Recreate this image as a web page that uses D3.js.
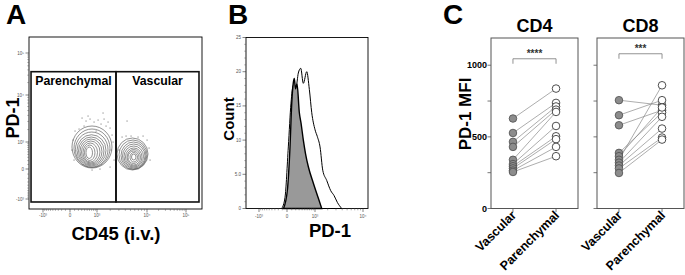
<!DOCTYPE html>
<html>
<head>
<meta charset="utf-8">
<script src="https://cdn.jsdelivr.net/npm/d3@7"></script>
<style>
body { margin: 0; background: #fff; }
svg { display: block; font-family: "Liberation Sans", Arial, sans-serif; }
</style>
</head>
<body>
<div id="chart"></div>
<script>
// ---------- data ----------
// flow axes (logicle-like)
const decadeTicks = [-1000, 0, 1000, 10000, 100000];
const decadeLabels = ["-10³", "0", "10³", "10⁴", "10⁵"];

// A: gates, in CD45 / PD-1 units
const gateNames = ["Parenchymal", "Vascular"];
const gateCD45 = [[-1967, 2629], [2629, 212900]];
const gatePD1 = [-1177, 36240];

// A: contour rings [CD45 low, CD45 high, PD-1 low, PD-1 high], outer -> inner
const parenchymalRings = [
  [41, 2178, 20, 2397], [86, 1978, 31, 2060], [122, 1794, 41, 1760],
  [162, 1622, 63, 1520], [203, 1465, 86, 1341], [247, 1318, 110, 1195],
  [294, 1183, 135, 1062], [344, 1030, 162, 939], [397, 880, 203, 825],
  [453, 745, 262, 720]
];
const vascularRings = [
  [2753, 10627, -18, 1267], [3017, 10000, -9, 1127], [3301, 9599, 0, 1000],
  [3530, 9212, 20, 880], [3773, 8658, 41, 771], [4031, 8137, 63, 671],
  [4303, 7643, 86, 600], [4494, 7178, 123, 535], [4901, 6740, 162, 473],
  [5227, 6329, 217, 415]
];
// A: outlier events outside the contours
const eventCD45 = [310, 453, 623, 825, 1060, 1249, 1465, 1622, 1794, 1978, 379, 217, 110, 63, 40, 86,
  2178, 2284, 2076, 2395, 2630, 1978, 4303, 3455, 4120, 5115, 6880, 8479, 10000, 11290, 11990,
  3017, 720, 1180, 939, 535, 1390];
const eventPD1 = [3535, 3065, 3370, 2919, 3214, 2647, 3370, 2397, 2919, 2167, 2397, 2060, 1858, 1127, 578, 217,
  1499, 1000, 578, 217, 110, 41, 3065, 1341, 1418, 1418, 1341, 1418, 1127, 671, 217,
  578, -18, 0, 1858, 3885, 4470];

// B: PD-1 histograms
const histTicks = [-1000, 0, 1000, 10000];
const histTickLabels = ["-10³", "0", "10³", "10⁴"];
const countTicks = [0, 5, 10, 15, 20, 25];
const countLabels = ["0", "5.0", "10", "15", "20", "25"];
const parenchymalPD1 = [-113, -40, 26, 83, 138, 209, 275, 352, 444, 580, 698, 818, 1004, 1149, 1337, 1548, 1905, 2328, 2731, 3193, 3913];
const parenchymalCount = [0, 1.6, 9, 15.4, 18, 17.8, 19.8, 20.5, 18.3, 20, 17.4, 14, 11.5, 10.5, 9, 5.6, 4.1, 2.6, 1.9, 0.9, 0];
const vascularPD1 = [-72, 6, 61, 100, 138, 163, 195, 237, 307, 362, 444, 530, 651, 905, 1217, 1467];
const vascularCount = [0, 2.6, 9, 15.4, 18.4, 19, 17.5, 18.2, 14, 12.5, 10, 8, 6.1, 3.7, 1.5, 0];

// C: paired PD-1 MFI
const compartments = ["Vascular", "Parenchymal"];
const subsets = ["CD4", "CD8"];
const significance = ["****", "***"];
const sigLevel = [1045, 1080];
const mfiTicks = [0, 250, 500, 750, 1000];
const mfiLabels = ["0", "", "500", "", "1000"];
const cd4Vascular = [628, 527, 465, 430, 340, 310, 295, 280, 265, 255];
const cd4Parenchymal = [837, 737, 712, 690, 674, 576, 504, 484, 430, 365];
const cd8Vascular = [756, 651, 581, 388, 365, 340, 320, 300, 280, 248];
const cd8Parenchymal = [721, 756, 686, 670, 705, 860, 640, 558, 495, 481];

// ---------- setup ----------
const svg = d3.select("#chart").append("svg")
  .attr("width", 685)
  .attr("height", 275);

function minorTicks(maxExp) {
  // flow-style minor ticks: 1..9 x 10^k, including the negative decade
  const out = [];
  d3.range(1, 10).forEach(m => out.push(-m * 100));
  for (let e = 2; e <= maxExp; e++) {
    d3.range(1, 10).forEach(m => { if (m > 1 || e === 2) out.push(m * Math.pow(10, e)); });
  }
  return out.filter(v => decadeTicks.indexOf(v) < 0);
}

function tinyLabel(g, x, y, txt, anchor) {
  g.append("text")
    .attr("x", x).attr("y", y)
    .attr("text-anchor", anchor)
    .style("font-size", "4.5px")
    .style("fill", "#555")
    .text(txt);
}

// Panel letters
[["A", 6], ["B", 228], ["C", 443]].forEach(([l, x]) => {
  svg.append("text")
    .attr("x", x).attr("y", 24)
    .style("font-size", "28px")
    .style("font-weight", "bold")
    .text(l);
});

// ---------- Panel A ----------
const ax = d3.scaleSymlog().constant(470).domain(decadeTicks).range([43, 70, 97, 147, 186]);
const ay = d3.scaleSymlog().constant(470).domain(decadeTicks).range([199, 169, 142, 95, 53]);
const gA = svg.append("g");

// contours
function drawRings(rings) {
  gA.append("g")
    .selectAll("ellipse")
    .data(rings)
    .enter().append("ellipse")
    .attr("cx", d => (ax(d[0]) + ax(d[1])) / 2)
    .attr("cy", d => (ay(d[2]) + ay(d[3])) / 2)
    .attr("rx", d => (ax(d[1]) - ax(d[0])) / 2)
    .attr("ry", d => (ay(d[2]) - ay(d[3])) / 2)
    .style("fill", "none")
    .style("stroke", "#555")
    .style("stroke-width", 0.65);
}
drawRings(parenchymalRings);
drawRings(vascularRings);

// outlier events
gA.append("g")
  .selectAll("rect")
  .data(eventCD45.map((v, i) => [v, eventPD1[i]]))
  .enter().append("rect")
  .attr("x", d => ax(d[0]) - 0.4)
  .attr("y", d => ay(d[1]) - 0.4)
  .attr("width", 0.9).attr("height", 0.9)
  .style("fill", "#444");

// frame
gA.append("rect")
  .attr("x", 29).attr("y", 37).attr("width", 173).attr("height", 172)
  .style("fill", "none").style("stroke", "#000").style("stroke-width", 0.9);

// gates
gateNames.forEach((name, i) => {
  const x0 = ax(gateCD45[i][0]), x1 = ax(gateCD45[i][1]);
  const y0 = ay(gatePD1[1]), y1 = ay(gatePD1[0]);
  gA.append("rect")
    .attr("x", x0).attr("y", y0).attr("width", x1 - x0).attr("height", y1 - y0)
    .style("fill", "none").style("stroke", "#111").style("stroke-width", 1.6);
  gA.append("text")
    .attr("x", (x0 + x1) / 2).attr("y", y0 + 13)
    .attr("text-anchor", "middle")
    .style("font-size", "12.3px").style("font-weight", "bold")
    .text(name);
});

// axes ticks
const minA = minorTicks(4);
decadeTicks.forEach((v, i) => {
  gA.append("line").attr("x1", 25.5).attr("x2", 29).attr("y1", ay(v)).attr("y2", ay(v))
    .style("stroke", "#333").style("stroke-width", 0.6);
  tinyLabel(gA, 24, ay(v) + 1.5, decadeLabels[i], "end");
  gA.append("line").attr("y1", 209).attr("y2", 212.5).attr("x1", ax(v)).attr("x2", ax(v))
    .style("stroke", "#333").style("stroke-width", 0.6);
  tinyLabel(gA, ax(v), 217, decadeLabels[i], "middle");
});
minA.forEach(v => {
  gA.append("line").attr("x1", 27.3).attr("x2", 29).attr("y1", ay(v)).attr("y2", ay(v))
    .style("stroke", "#555").style("stroke-width", 0.5);
  if (ax(v) < 202) {
    gA.append("line").attr("y1", 209).attr("y2", 210.8).attr("x1", ax(v)).attr("x2", ax(v))
      .style("stroke", "#555").style("stroke-width", 0.5);
  }
});

// axis labels
gA.append("text")
  .attr("transform", "translate(19,118) rotate(-90)")
  .attr("text-anchor", "middle")
  .style("font-size", "18px").style("font-weight", "bold")
  .text("PD-1");
gA.append("text")
  .attr("x", 116).attr("y", 240)
  .attr("text-anchor", "middle")
  .style("font-size", "18.5px").style("font-weight", "bold")
  .text("CD45 (i.v.)");

// ---------- Panel B ----------
const bx = d3.scaleSymlog().constant(470).domain(histTicks).range([259, 287, 315, 363]);
const by = d3.scaleLinear().domain([0, 25]).range([208.5, 37.5]);
const gB = svg.append("g");

const area = d3.area()
  .x(d => bx(d[0]))
  .y0(by(0))
  .y1(d => by(d[1]))
  .curve(d3.curveMonotoneX);

gB.append("path")
  .datum(parenchymalPD1.map((v, i) => [v, parenchymalCount[i]]))
  .attr("d", area)
  .style("fill", "#fff").style("stroke", "#000").style("stroke-width", 1);
gB.append("path")
  .datum(vascularPD1.map((v, i) => [v, vascularCount[i]]))
  .attr("d", area)
  .style("fill", "#999").style("stroke", "#000").style("stroke-width", 1.4);

gB.append("rect")
  .attr("x", 246).attr("y", by(25)).attr("width", 122).attr("height", by(0) - by(25))
  .style("fill", "none").style("stroke", "#000").style("stroke-width", 0.9);

countTicks.forEach((v, i) => {
  gB.append("line").attr("x1", 242.5).attr("x2", 246).attr("y1", by(v)).attr("y2", by(v))
    .style("stroke", "#333").style("stroke-width", 0.6);
  tinyLabel(gB, 241, by(v) + 1.5, countLabels[i], "end");
});
d3.range(1, 25).filter(v => v % 5 !== 0).forEach(v => {
  gB.append("line").attr("x1", 244.3).attr("x2", 246).attr("y1", by(v)).attr("y2", by(v))
    .style("stroke", "#555").style("stroke-width", 0.5);
});
histTicks.forEach((v, i) => {
  gB.append("line").attr("y1", by(0)).attr("y2", by(0) + 3.5).attr("x1", bx(v)).attr("x2", bx(v))
    .style("stroke", "#333").style("stroke-width", 0.6);
  tinyLabel(gB, bx(v), 218, histTickLabels[i], "middle");
});
minorTicks(4).forEach(v => {
  if (bx(v) > 246 && bx(v) < 368) {
    gB.append("line").attr("y1", by(0)).attr("y2", by(0) + 1.8).attr("x1", bx(v)).attr("x2", bx(v))
      .style("stroke", "#555").style("stroke-width", 0.5);
  }
});

gB.append("text")
  .attr("transform", "translate(234,119) rotate(-90)")
  .attr("text-anchor", "middle")
  .style("font-size", "15px").style("font-weight", "bold")
  .text("Count");
gB.append("text")
  .attr("x", 330).attr("y", 237)
  .attr("text-anchor", "middle")
  .style("font-size", "18.5px").style("font-weight", "bold")
  .text("PD-1");

// ---------- Panel C ----------
const cy = d3.scaleLinear().domain([0, 1190]).range([208.5, 38]);
const cBoxes = [[491, 578], [597, 684]];
const cData = [[cd4Vascular, cd4Parenchymal], [cd8Vascular, cd8Parenchymal]];

subsets.forEach((name, k) => {
  const [left, right] = cBoxes[k];
  const x = d3.scalePoint().domain(compartments).range([left, right]).padding(0.51);
  const g = svg.append("g");
  const [vasc, par] = cData[k];

  // pair lines
  g.append("g")
    .selectAll("line")
    .data(vasc.map((v, i) => [v, par[i]]))
    .enter().append("line")
    .attr("x1", x("Vascular")).attr("x2", x("Parenchymal"))
    .attr("y1", d => cy(d[0])).attr("y2", d => cy(d[1]))
    .style("stroke", "#8a8a8a").style("stroke-width", 0.7);

  g.append("g")
    .selectAll("circle")
    .data(vasc)
    .enter().append("circle")
    .attr("cx", x("Vascular")).attr("cy", d => cy(d)).attr("r", 3.8)
    .style("fill", "#8c8c8c").style("stroke", "#4d4d4d").style("stroke-width", 0.8);

  g.append("g")
    .selectAll("circle")
    .data(par)
    .enter().append("circle")
    .attr("cx", x("Parenchymal")).attr("cy", d => cy(d)).attr("r", 3.8)
    .style("fill", "#fff").style("stroke", "#222").style("stroke-width", 0.8);

  // box
  g.append("rect")
    .attr("x", left).attr("y", cy(1190)).attr("width", right - left).attr("height", cy(0) - cy(1190))
    .style("fill", "none").style("stroke", "#555").style("stroke-width", 1);

  // y ticks
  mfiTicks.forEach((v, i) => {
    g.append("line").attr("x1", left - 3.5).attr("x2", left).attr("y1", cy(v)).attr("y2", cy(v))
      .style("stroke", "#555").style("stroke-width", 0.8);
    if (k === 0 && mfiLabels[i]) {
      g.append("text")
        .attr("x", left - 4).attr("y", cy(v) + 3.2)
        .attr("text-anchor", "end")
        .style("font-size", "9px").style("font-weight", "bold")
        .text(mfiLabels[i]);
    }
  });

  // x ticks and rotated labels
  compartments.forEach(c => {
    g.append("line").attr("x1", x(c)).attr("x2", x(c)).attr("y1", cy(0)).attr("y2", cy(0) + 3.5)
      .style("stroke", "#555").style("stroke-width", 0.8);
    g.append("text")
      .attr("transform", `translate(${x(c) + 4},216) rotate(-45)`)
      .attr("text-anchor", "end")
      .style("font-size", "12.5px").style("font-weight", "bold")
      .text(c);
  });

  // title
  g.append("text")
    .attr("x", (left + right) / 2).attr("y", 32)
    .attr("text-anchor", "middle")
    .style("font-size", "18px").style("font-weight", "bold")
    .text(name);

  // significance bracket
  const sy = cy(sigLevel[k]);
  g.append("path")
    .attr("d", `M${x("Vascular")},${sy + 5}V${sy}H${x("Parenchymal")}V${sy + 5}`)
    .style("fill", "none").style("stroke", "#777").style("stroke-width", 0.8);
  g.append("text")
    .attr("x", (x("Vascular") + x("Parenchymal")) / 2).attr("y", sy - 2)
    .attr("text-anchor", "middle")
    .style("font-size", "10px").style("font-weight", "bold").style("fill", "#333")
    .text(significance[k]);
});

svg.append("text")
  .attr("transform", "translate(471,114) rotate(-90)")
  .attr("text-anchor", "middle")
  .style("font-size", "17px").style("font-weight", "bold")
  .text("PD-1 MFI");
</script>
</body>
</html>
